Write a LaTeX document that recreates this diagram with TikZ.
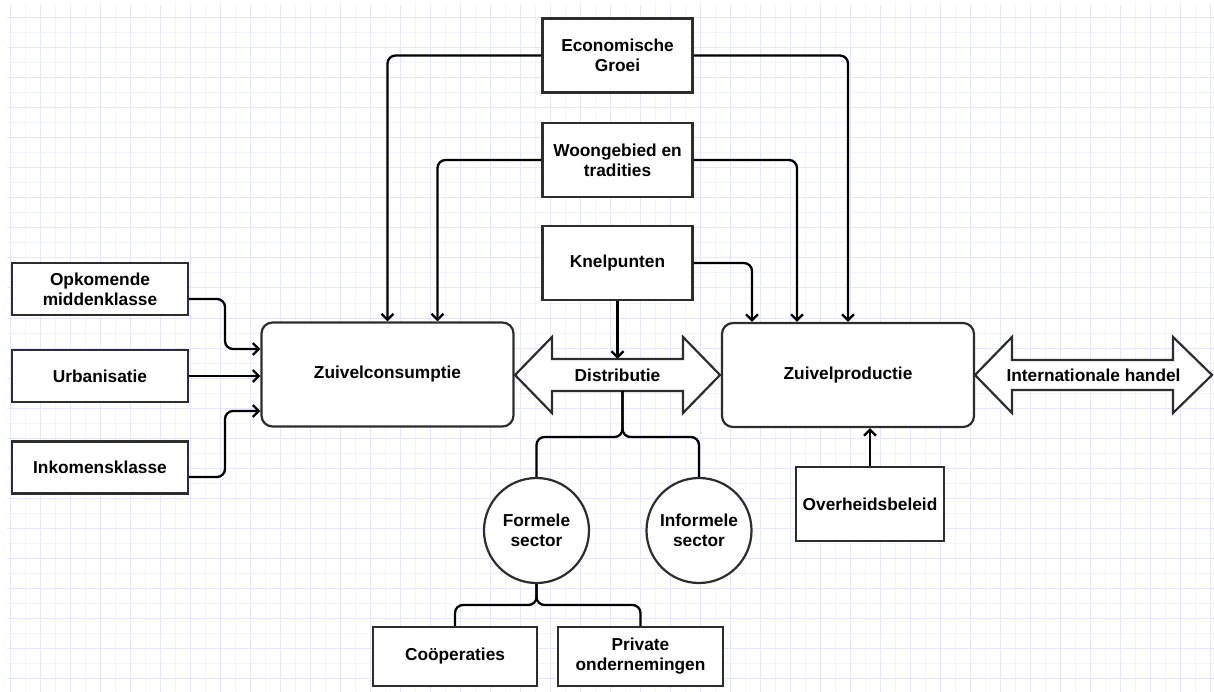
\documentclass[tikz,border=0pt]{standalone}
\usepackage{fontspec}
\setmainfont{Liberation Sans}
\usetikzlibrary{arrows.meta}
\definecolor{gridA}{RGB}{244,244,255}
\definecolor{gridB}{RGB}{230,230,255}
\definecolor{edgec}{RGB}{45,45,45}
\begin{document}
\begin{tikzpicture}[x=1pt,y=-1pt,
  font=\bfseries\fontsize{17.3}{20}\selectfont,
  box/.style={draw=edgec, line width=2.2pt, fill=white, inner sep=0pt, align=center, minimum width=150pt, minimum height=74pt},
  rbox/.style={box, rounded corners=11pt, minimum width=252pt, minimum height=104pt},
  circ/.style={draw=edgec, line width=2.2pt, fill=white, circle, inner sep=0pt, align=center, minimum size=105pt},
  conn/.style={line width=2.3pt, black, rounded corners=8pt, -{Straight Barb[length=6pt,width=12pt,line width=2.3pt]}},
  plainline/.style={line width=2.3pt, black, rounded corners=8pt},
  dblarrow/.style={draw=edgec, line width=2.2pt, fill=white, line join=miter},
  gridfaint/.style={gridA, line width=1pt},
  gridstrong/.style={gridB, line width=1pt}]
\useasboundingbox (0,0) rectangle (1214,692);
\fill[white] (0,0) rectangle (1214,692);
% grid
\foreach \x in {25,55,...,1214} \draw[gridfaint] (\x,5) -- (\x,692);
\foreach \y in {33,63,...,692} \draw[gridfaint] (7,\y) -- (1214,\y);
\foreach \x in {10,40,...,1214} \draw[gridstrong] (\x,5) -- (\x,692);
\foreach \y in {18,48,...,692} \draw[gridstrong] (7,\y) -- (1214,\y);

% nodes
\node[box] (eco) at (617.5,55.5) {Economische\\Groei};
\node[box] (woon) at (617.5,160) {Woongebied en\\tradities};
\node[box] (knel) at (617.5,263) {Knelpunten};
\node[rbox] (cons) at (387.5,374.5) {Zuivelconsumptie};
\node[rbox] (prod) at (848,375) {Zuivelproductie};
\node[box, minimum width=176pt, minimum height=52pt] (opk) at (100,289) {Opkomende\\middenklasse};
\node[box, minimum width=176pt, minimum height=52pt] (urb) at (100,376) {Urbanisatie};
\node[box, minimum width=176pt, minimum height=52pt] (ink) at (100,467.5) {Inkomensklasse};
\node[box, minimum width=148pt, minimum height=74pt] (over) at (870,504) {Overheidsbeleid};
\node[circ] (form) at (536.5,530.5) {Formele\\sector};
\node[circ] (inf) at (699,530.5) {Informele\\sector};
\node[box, minimum width=164pt, minimum height=59pt] (coop) at (455,656.5) {Coöperaties};
\node[box, minimum width=165pt, minimum height=59pt] (priv) at (640.5,656.5) {Private\\ondernemingen};

% double arrows
\draw[dblarrow] (515,375) -- (552,337) -- (552,359) -- (683,359) -- (683,337) -- (720,375)
  -- (683,413) -- (683,391) -- (552,391) -- (552,413) -- cycle;
\node[inner sep=0pt, minimum width=205pt, minimum height=32pt] (dist) at (617.5,375) {Distributie};
\draw[dblarrow] (975,375) -- (1012,337) -- (1012,360) -- (1173,360) -- (1173,337) -- (1212,375)
  -- (1173,413) -- (1173,390) -- (1012,390) -- (1012,413) -- cycle;
\node[inner sep=0pt, minimum width=237pt, minimum height=30pt] (intl) at (1093.5,375) {Internationale handel};

% connectors
\draw[conn] (eco.west) -| (cons.north);
\draw[conn] (eco.east) -| (prod.north);
\draw[conn] (woon.west) -| ([xshift=50pt]cons.north);
\draw[conn] (woon.east) -| ([xshift=-51pt]prod.north);
\draw[conn] (knel.east) -| ([xshift=-96pt]prod.north);
\draw[conn] (knel.south) -- (dist.north);
\draw[conn] ([yshift=-10pt]opk.east) -| (225,349) -- ([yshift=25.5pt]cons.west);
\draw[conn] (urb.east) -- (urb.east -| cons.west);
\draw[conn] ([yshift=-9.5pt]ink.east) -| (225,411) -- ([yshift=-36.5pt]cons.west);
\draw[conn] (over.north) -- (over.north |- prod.south);
\draw[plainline] ([xshift=5pt]dist.south) -- (622.5,437) -| (form.north);
\draw[plainline] ([xshift=5pt]dist.south) -- (622.5,437) -| (inf.north);
\draw[plainline] (form.south) -- (536.5,605) -| (coop.north);
\draw[plainline] (form.south) -- (536.5,605) -| (priv.north);
\end{tikzpicture}
\end{document}
